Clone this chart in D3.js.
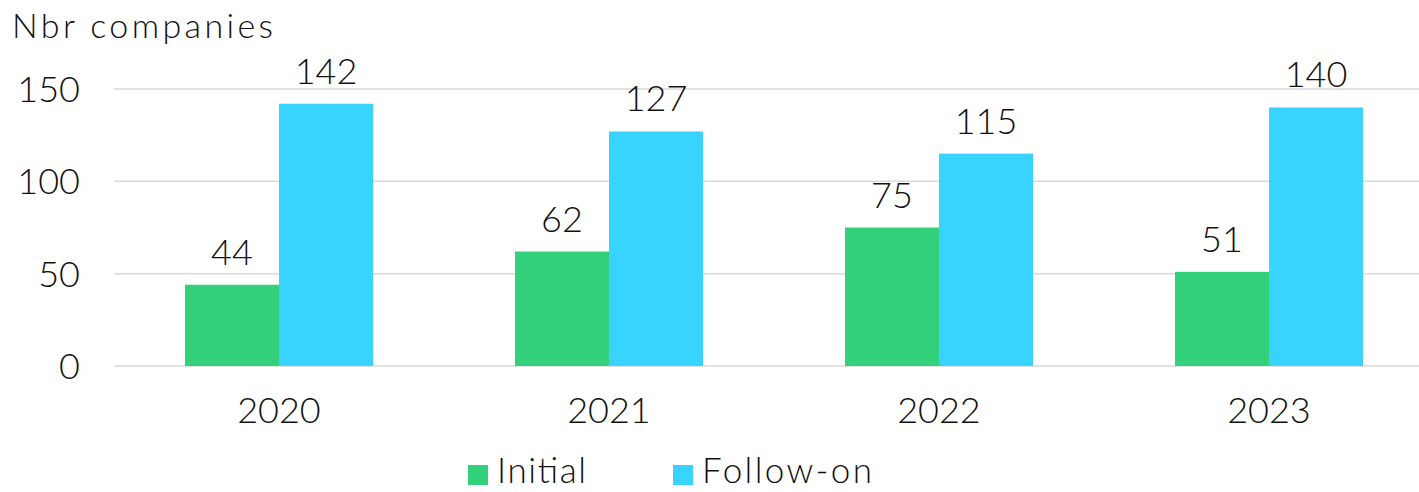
<!DOCTYPE html>
<html>
<head>
<meta charset="utf-8">
<script src="https://cdn.jsdelivr.net/npm/d3@7"></script>
<style>
html,body{margin:0;padding:0;background:#fff;}
svg text{font-family:"Lato","Open Sans",sans-serif;font-weight:300;fill:#111;}
</style>
</head>
<body>
<svg id="chart" width="1419" height="492"></svg>
<script>
const categories = ["2020", "2021", "2022", "2023"];
const seriesNames = ["Initial", "Follow-on"];
const initialValues = [44, 62, 75, 51];
const followOnValues = [142, 127, 115, 140];
const yTicks = [0, 50, 100, 150];
const yTitle = "Nbr companies";
const colors = ["#34d17d", "#38d3ff"];

const svg = d3.select("#chart");
const x0 = d3.scaleBand().domain(categories).range([114, 1434]).padding(0);
const x1 = d3.scaleBand().domain(seriesNames).range([71, 259]).padding(0);
const y = d3.scaleLinear().domain([0, 150]).range([366, 89]);

// gridlines
svg.append("g").selectAll("line").data(yTicks).join("line")
  .attr("x1", 114).attr("x2", 1434)
  .attr("y1", d => y(d)).attr("y2", d => y(d))
  .attr("stroke", "#d9d9d9").attr("stroke-width", 1.5);

// y tick labels
svg.append("g").selectAll("text").data(yTicks).join("text")
  .attr("x", 80).attr("y", d => y(d) + 13)
  .attr("text-anchor", "end").attr("font-size", 36)
  .text(d => d);

// title
svg.append("text").attr("x", 12).attr("y", 38).attr("font-size", 34)
  .attr("textLength", 261).attr("lengthAdjust", "spacing").text(yTitle);

const data = categories.map((c, i) => ({cat: c, vals: [initialValues[i], followOnValues[i]]}));

const groups = svg.append("g").selectAll("g").data(data).join("g")
  .attr("transform", d => `translate(${x0(d.cat)},0)`);

groups.selectAll("rect").data(d => d.vals.map((v, j) => ({name: seriesNames[j], v, j}))).join("rect")
  .attr("x", d => x1(d.name)).attr("width", x1.bandwidth())
  .attr("y", d => y(d.v)).attr("height", d => y(0) - y(d.v))
  .attr("fill", d => colors[d.j]);

groups.selectAll("text.val").data(d => d.vals.map((v, j) => ({name: seriesNames[j], v, j}))).join("text")
  .attr("class", "val")
  .attr("x", d => x1(d.name) + x1.bandwidth() / 2)
  .attr("y", d => y(d.v) - 20)
  .attr("text-anchor", "middle").attr("font-size", 36)
  .text(d => d.v);

// x labels
svg.append("g").selectAll("text").data(categories).join("text")
  .attr("x", d => x0(d) + x0.bandwidth() / 2).attr("y", 423)
  .attr("text-anchor", "middle").attr("font-size", 36)
  .text(d => d);

// legend
const legendX = [468, 673];
const legendLen = [89, 170];
const lg = svg.append("g").selectAll("g").data(seriesNames).join("g")
  .attr("transform", (d, i) => `translate(${legendX[i]},465)`);
lg.append("rect").attr("width", 20).attr("height", 20).attr("fill", (d, i) => colors[i]);
lg.append("text").attr("x", 29).attr("y", 18).attr("font-size", 35)
  .attr("textLength", (d, i) => legendLen[i]).attr("lengthAdjust", "spacing")
  .text(d => d);
</script>
</body>
</html>
